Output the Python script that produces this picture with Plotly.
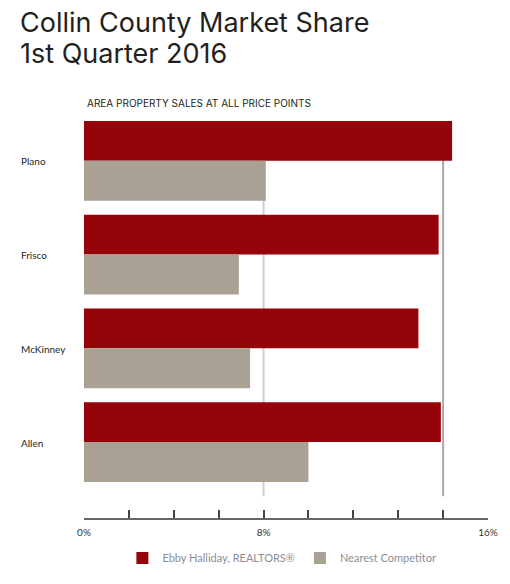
"""Collin County market share, Q1 2016 - grouped horizontal bars."""

import plotly.graph_objects as go

# ── Data ──────────────────────────────────────────────────────────────────────
cities = ["Plano", "Frisco", "McKinney", "Allen"]
ebby_share = [16.4, 15.8, 14.9, 15.9]
competitor_share = [8.1, 6.9, 7.4, 10.0]

tick_vals = [0, 2, 4, 6, 8, 10, 12, 14, 16, 18]
tick_text = ["0%", "", "", "", "8%", "", "", "", "", "16%"]
grid_vals = [8, 16]

RED = "#95040b"
GRAY = "#a9a194"
DARK = "#231f20"

fig = go.Figure()
fig.add_trace(go.Bar(
    y=cities, x=ebby_share, orientation="h",
    name="Ebby Halliday, REALTORS®",
    marker=dict(color=RED, line_width=0),
))
fig.add_trace(go.Bar(
    y=cities, x=competitor_share, orientation="h",
    name="Nearest Competitor",
    marker=dict(color=GRAY, line_width=0),
))

# vertical guide lines behind the bars
for gv, col in zip(grid_vals, ["#cfcfcf", "#a8a8a8"]):
    fig.add_vline(x=gv, y0=0.054, y1=0.983, line_color=col, line_width=2,
                  layer="below")

# city labels, left aligned
for c in cities:
    fig.add_annotation(text=c, x=-0.161, xref="paper", xanchor="left",
                       y=c, yref="y", yshift=-0.5, showarrow=False,
                       font=dict(size=10, color=DARK, family="Lato"))

# title block
title_lines = ["Collin County Market Share", "1st Quarter 2016"]
for i, line in enumerate(title_lines):
    fig.add_annotation(text=line, xref="paper", yref="paper",
                       x=(17 - 84) / 409, xanchor="left",
                       y=(519 - (22 + 31 * i)) / 405, yanchor="middle",
                       showarrow=False,
                       font=dict(size=27, color=DARK, family="Inter"))

fig.add_annotation(text="AREA PROPERTY SALES AT ALL PRICE POINTS",
                   xref="paper", yref="paper", x=(85 - 84) / 409,
                   xanchor="left", y=(519 - 103) / 405, yanchor="middle",
                   showarrow=False,
                   font=dict(size=10, color=DARK, family="Inter"))

fig.update_layout(
    width=510, height=584,
    margin=dict(l=84, r=17, t=114, b=65),
    paper_bgcolor="white", plot_bgcolor="white",
    barmode="group", bargap=0.149, bargroupgap=0,
    font=dict(family="Lato", color=DARK),
    xaxis=dict(
        range=[0, 18], tickvals=tick_vals, ticktext=tick_text,
        ticks="inside", ticklen=8, tickwidth=1.5, tickcolor="#444",
        showline=True, linecolor="#666", linewidth=1.5,
        showgrid=False, zeroline=False, ticklabelstandoff=4,
        tickfont=dict(size=10, color="#333"),
    ),
    yaxis=dict(
        range=[3.81, -0.5], showticklabels=False, ticks="",
        showgrid=False, zeroline=False, showline=False,
    ),
    showlegend=True,
    legend=dict(orientation="h", x=0.095, xanchor="left", y=-0.099,
                yanchor="middle", font=dict(size=11, color="#8b8e95"),
                traceorder="normal"),
)

# drop the default 8px body margin so the 510x584 figure fills the window
fig.write_html("out.html", config={"displayModeBar": False},
               post_script="document.body.style.margin = '0';")
